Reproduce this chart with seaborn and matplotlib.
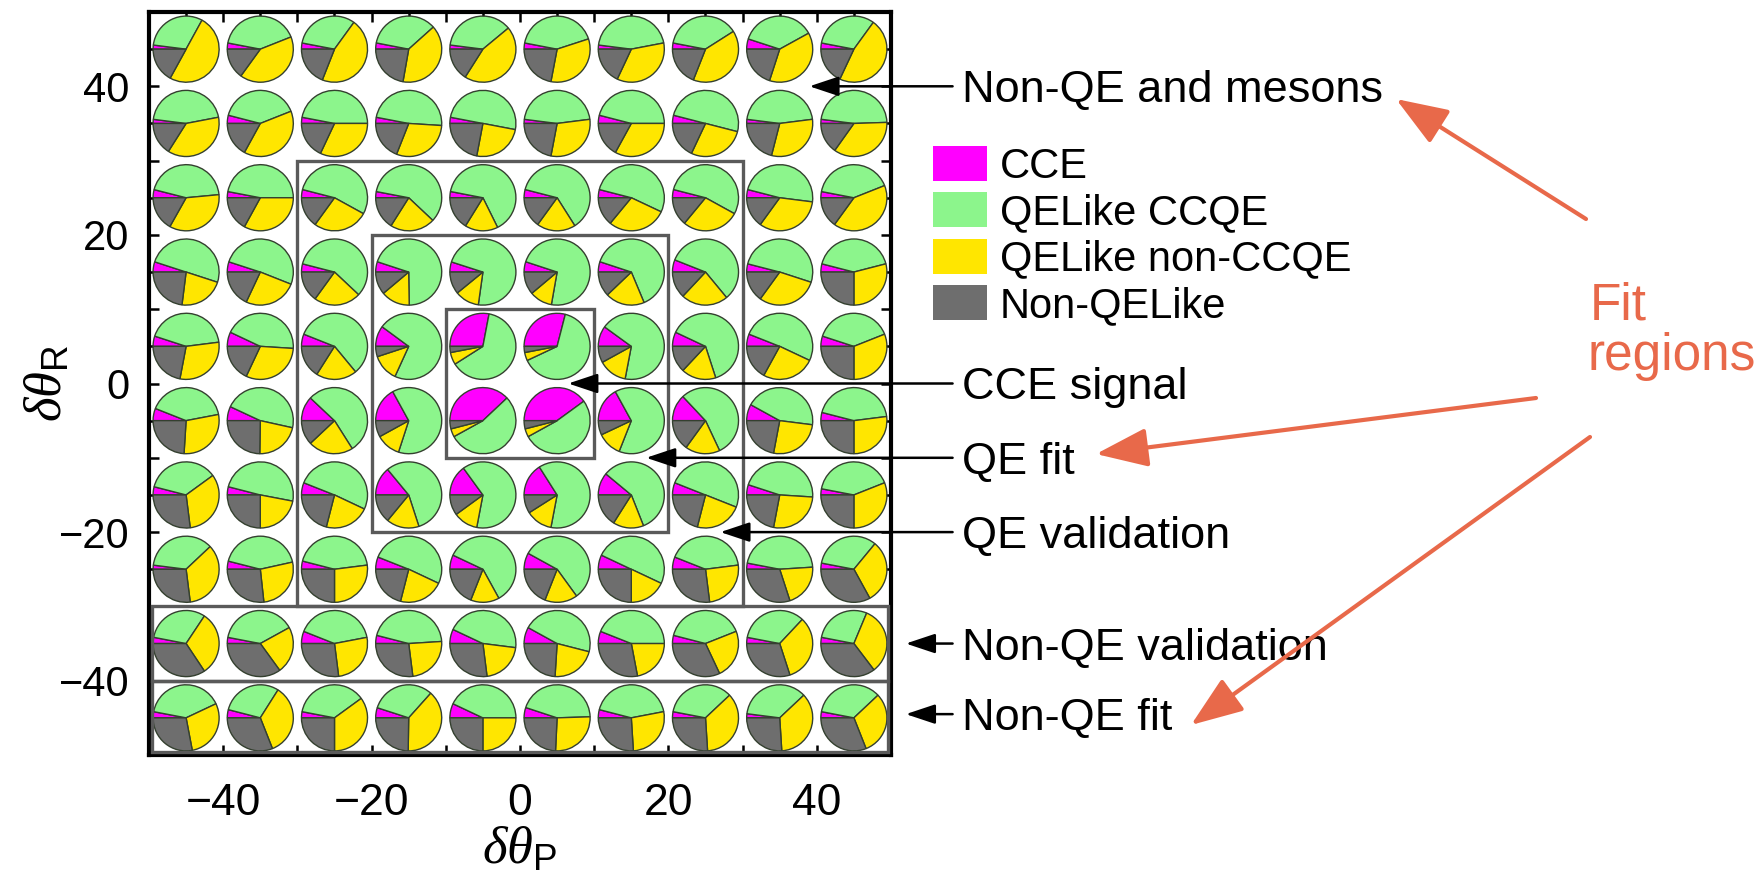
import numpy as np
import pandas as pd
import matplotlib
matplotlib.use('Agg')
import matplotlib.pyplot as plt
import seaborn as sns
from matplotlib.patches import Rectangle, Patch
from matplotlib import font_manager

# ---------------- data ----------------
categories = ['CCE', 'QELike CCQE', 'QELike non-CCQE', 'Non-QELike']
colors = ['#FF00FF', '#8CF58C', '#FFE600', '#6E6E6E']

delta_p = [-45, -35, -25, -15, -5, 5, 15, 25, 35, 45]
delta_r = [45, 35, 25, 15, 5, -5, -15, -25, -35, -45]

cce = [
    [2, 3, 3, 3, 2, 3, 2, 3, 5, 3],
    [2, 4, 3, 3, 3, 2, 4, 4, 2, 2],
    [4, 3, 4, 3, 3, 4, 4, 4, 4, 3],
    [5, 5, 4, 5, 5, 5, 5, 6, 4, 4],
    [5, 7, 6, 10, 28, 29, 10, 7, 6, 5],
    [6, 7, 12, 17, 38, 40, 17, 13, 8, 4],
    [4, 4, 6, 14, 15, 16, 11, 6, 5, 3],
    [2, 4, 4, 6, 7, 8, 7, 6, 3, 3],
    [3, 3, 6, 4, 7, 8, 6, 4, 3, 3],
    [3, 4, 3, 5, 7, 5, 4, 3, 2, 3],
]
qelike_ccqe = [
    [31, 41, 32, 35, 37, 42, 45, 38, 37, 32],
    [45, 40, 47, 48, 50, 46, 46, 50, 46, 47],
    [45, 47, 54, 59, 64, 62, 53, 54, 48, 41],
    [50, 51, 58, 69, 73, 72, 63, 58, 51, 42],
    [43, 44, 58, 71, 63, 64, 68, 63, 51, 39],
    [41, 47, 54, 63, 54, 52, 64, 55, 44, 44],
    [36, 49, 51, 56, 63, 62, 58, 50, 46, 41],
    [36, 43, 44, 51, 60, 57, 50, 42, 46, 33],
    [31, 39, 41, 45, 45, 46, 44, 40, 34, 28],
    [40, 30, 37, 32, 43, 44, 43, 35, 36, 35],
]
qelike_non_ccqe = [
    [50, 41, 46, 39, 45, 33, 35, 40, 38, 47],
    [37, 39, 32, 30, 25, 30, 33, 28, 31, 35],
    [35, 33, 27, 22, 16, 19, 29, 28, 33, 41],
    [22, 26, 23, 14, 12, 11, 19, 23, 30, 29],
    [30, 31, 20, 13, 6, 4, 14, 17, 26, 31],
    [29, 22, 22, 12, 4, 4, 12, 17, 26, 27],
    [33, 22, 22, 16, 12, 13, 15, 23, 27, 31],
    [35, 27, 27, 22, 14, 16, 18, 25, 21, 31],
    [31, 23, 26, 24, 21, 22, 22, 24, 33, 33],
    [29, 35, 35, 39, 25, 26, 27, 36, 36, 31],
]
non_qelike = [
    [17, 15, 19, 22, 16, 22, 18, 19, 20, 18],
    [16, 17, 18, 19, 22, 22, 17, 18, 21, 15],
    [17, 17, 15, 16, 16, 15, 14, 14, 15, 15],
    [23, 18, 15, 11, 11, 11, 12, 13, 15, 25],
    [22, 18, 16, 5, 3, 3, 8, 13, 17, 25],
    [24, 25, 12, 8, 4, 4, 7, 15, 22, 25],
    [27, 25, 21, 14, 10, 9, 16, 21, 22, 25],
    [27, 27, 25, 21, 19, 19, 25, 27, 30, 33],
    [34, 35, 27, 27, 27, 24, 28, 32, 30, 35],
    [28, 31, 25, 25, 25, 24, 26, 26, 26, 31],
]

tick_values = [-40, -20, 0, 20, 40]
tick_labels = ['\u221240', '\u221220', '0', '20', '40']

# fit regions (x0, x1, y0, y1)
region_boxes = [(-30, 30, -30, 30), (-20, 20, -20, 20), (-10, 10, -10, 10),
                (-49.6, 49.6, -40, -30), (-49.6, 49.6, -49.6, -40)]

annot_labels = ['Non-QE and mesons', 'CCE signal', 'QE fit', 'QE validation',
                'Non-QE validation', 'Non-QE fit']
annot_y = [40, 0, -10, -20, -35, -44.5]
annot_tip_x = [39, 6.5, 17, 27, 52, 52]

# ---------------- style ----------------
sns.set_theme(style='ticks')
plt.rcParams['font.family'] = ['Liberation Sans', 'DejaVu Sans']
plt.rcParams['mathtext.fontset'] = 'custom'
plt.rcParams['mathtext.it'] = 'Liberation Serif:italic'
plt.rcParams['mathtext.rm'] = 'Liberation Sans'
plt.rcParams['mathtext.sf'] = 'Liberation Sans'
plt.rcParams['axes.unicode_minus'] = True
for key in ['text.color', 'axes.labelcolor', 'xtick.color', 'ytick.color', 'axes.edgecolor']:
    plt.rcParams[key] = 'black'

try:
    font_manager.findfont(font_manager.FontProperties(family='Liberation Sans Narrow'),
                          fallback_to_default=False)
    narrow_family = ['Liberation Sans Narrow', 'Liberation Sans']
    xtick_size = 36
except Exception:
    narrow_family = ['Liberation Sans', 'DejaVu Sans']
    xtick_size = 32

W, H = 1758, 875
fig = plt.figure(figsize=(W / 100, H / 100), dpi=100)
fig.patch.set_facecolor('white')
ax = fig.add_axes([149 / W, 1 - 755 / H, (891 - 149) / W, (755 - 12) / H])

# long-form table
records = []
for i, yv in enumerate(delta_r):
    for j, xv in enumerate(delta_p):
        records.append(dict(dp=xv, dr=yv, cce=cce[i][j], ccqe=qelike_ccqe[i][j],
                            nonccqe=qelike_non_ccqe[i][j], nonqe=non_qelike[i][j]))
df = pd.DataFrame(records)

for _, r in df.iterrows():
    ax.pie([r.cce, r.ccqe, r.nonccqe, r.nonqe], colors=colors,
           center=(r.dp, r.dr), radius=4.45, startangle=180, counterclock=False,
           wedgeprops=dict(edgecolor='#34402f', linewidth=1.0), frame=True,
           normalize=True)

ax.set_aspect('auto')
ax.set_xlim(-50, 50)
ax.set_ylim(-50, 50)

for (x0, x1, y0, y1) in region_boxes:
    ax.add_patch(Rectangle((x0, y0), x1 - x0, y1 - y0, fill=False,
                           edgecolor='#5a5a5a', linewidth=2.4, zorder=5))

for s in ax.spines.values():
    s.set_linewidth(3)
    s.set_color('black')
    s.set_visible(True)

ax.set_xticks(tick_values)
ax.set_yticks(tick_values)
ax.set_xticks(np.arange(-50, 51, 5), minor=True)
ax.set_yticks(np.arange(-50, 51, 5), minor=True)
ax.set_xticklabels(tick_labels, family=narrow_family, fontsize=xtick_size)
ax.set_yticklabels(tick_labels, fontsize=30)
ax.tick_params(which='both', direction='in', top=True, right=True,
               length=7, width=1.8, color='black')
ax.tick_params(axis='x', which='major', pad=20)
ax.tick_params(axis='y', which='major', pad=14)

ax.set_xlabel(r'$\delta\theta_{\mathrm{P}}$', fontsize=38, va='center')
ax.set_ylabel(r'$\delta\theta_{\mathrm{R}}$', fontsize=38, va='center')
ax.xaxis.set_label_coords(0.5, -0.128)
ax.yaxis.set_label_coords(-0.136, 0.5)

# black annotation arrows and texts
for lab, yv, tx in zip(annot_labels, annot_y, annot_tip_x):
    ax.annotate('', xy=(tx, yv), xytext=(58.3, yv), annotation_clip=False,
                arrowprops=dict(arrowstyle='-|>,head_length=0.6,head_width=0.2',
                                mutation_scale=30, color='black', lw=1.8,
                                shrinkA=0, shrinkB=0), zorder=8)
    ax.annotate(lab, xy=(59.6, yv), xytext=(0, -11.5), textcoords='offset points',
                ha='left', va='baseline', fontsize=32.5, annotation_clip=False)

# legend
handles = [Patch(facecolor=c, edgecolor='none') for c in colors]
fig.legend(handles, categories, loc='upper left',
           bbox_to_anchor=(933 / W, 1 - 146 / H), frameon=False, fontsize=30,
           handlelength=1.3, handleheight=0.9, handletextpad=0.3,
           labelspacing=0.14, borderpad=0, borderaxespad=0)

# red "Fit regions" callout
red = '#E8694A'
fig.text(1590 / W, 1 - 320 / H, 'Fit', color=red, fontsize=37, ha='left', va='baseline')
fig.text(1588 / W, 1 - 370 / H, 'regions', color=red, fontsize=37, ha='left', va='baseline')
red_arrows = [((1586, 219), (1396, 99)), ((1536, 398), (1096, 454)), ((1590, 437), (1191, 725))]
for (x0, y0), (x1, y1) in red_arrows:
    ax.annotate('', xy=(x1, H - y1), xycoords='figure pixels',
                xytext=(x0, H - y0), textcoords='figure pixels',
                arrowprops=dict(arrowstyle='-|>,head_length=0.8,head_width=0.3',
                                mutation_scale=40, color=red, lw=3,
                                shrinkA=0, shrinkB=0), annotation_clip=False)

fig.savefig('out.png', dpi=100, facecolor='white')
